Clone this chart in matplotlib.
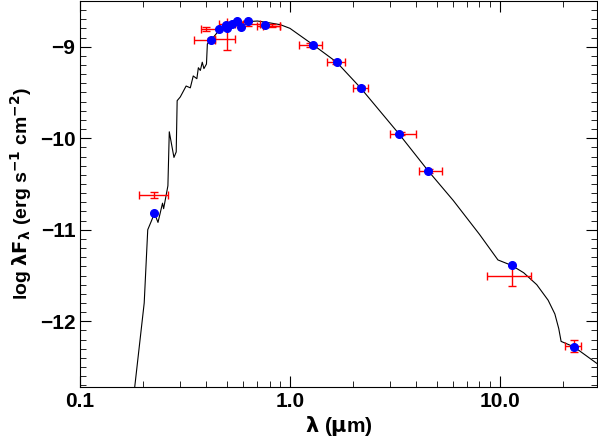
import matplotlib
matplotlib.use("Agg")
import matplotlib.pyplot as plt
from matplotlib.ticker import FixedLocator, NullFormatter, MultipleLocator
import numpy as np

plt.rcParams['font.family'] = ['Liberation Sans', 'DejaVu Sans']
plt.rcParams['mathtext.default'] = 'regular'

# model spectrum
model_x = [0.182, 0.202, 0.21, 0.219, 0.226, 0.235, 0.247, 0.25, 0.262, 0.266, 0.28, 0.287, 0.29,
           0.30, 0.32, 0.335, 0.346, 0.36, 0.366, 0.374, 0.382, 0.389, 0.40, 0.404, 0.42, 0.46,
           0.5, 0.6, 0.7, 0.8, 0.9, 1.0, 1.29, 1.67, 2.17, 3.3, 4.57, 6.0, 8.0, 9.8, 11.4, 13.0,
           15.0, 17.0, 18.3, 19.1, 19.6, 22.6, 29.0]
model_y = [-12.72, -11.80, -11.0, -10.90, -10.82, -10.92, -10.71, -10.77, -10.52, -9.93, -10.21, -10.15, -9.59,
           -9.55, -9.43, -9.45, -9.32, -9.35, -9.23, -9.26, -9.17, -9.24, -9.19, -8.97, -8.93, -8.82,
           -8.78, -8.73, -8.72, -8.74, -8.76, -8.80, -8.98, -9.17, -9.45, -9.95, -10.36, -10.68, -11.05, -11.33, -11.39, -11.47,
           -11.60, -11.77, -11.92, -12.08, -12.22, -12.28, -12.46]

# observed photometry
obs_x = [0.226, 0.40, 0.42, 0.50, 0.53, 0.56, 0.63, 0.76, 0.82, 1.25, 1.65, 2.17, 3.4, 4.6, 11.4, 22.6]
obs_y = [-10.62, -8.81, -8.93, -8.92, -8.75, -8.73, -8.75, -8.77, -8.77, -8.98, -9.17, -9.45, -9.95, -10.36, -11.51, -12.27]
obs_xlo = [0.19, 0.376, 0.35, 0.44, 0.46, 0.50, 0.55, 0.70, 0.74, 1.1, 1.5, 2.0, 3.0, 4.1, 8.7, 20.5]
obs_xhi = [0.263, 0.46, 0.44, 0.55, 0.60, 0.63, 0.72, 0.90, 0.90, 1.42, 1.82, 2.35, 4.0, 5.3, 14.1, 24.5]
obs_yerr = [0.03, 0.02, 0.02, 0.12, 0.02, 0.02, 0.02, 0.02, 0.02, 0.02, 0.02, 0.02, 0.02, 0.02, 0.11, 0.07]

# synthetic fluxes
syn_x = [0.226, 0.42, 0.46, 0.497, 0.50, 0.53, 0.558, 0.583, 0.63, 0.76, 1.29, 1.67, 2.17, 3.3, 4.57, 11.4, 22.6]
syn_y = [-10.82, -8.93, -8.81, -8.76, -8.80, -8.75, -8.72, -8.78, -8.72, -8.76, -8.98, -9.17, -9.45, -9.95, -10.36, -11.38, -12.28]

fig = plt.figure(figsize=(5.98, 4.43), dpi=100)
ax = fig.add_axes([0.134, 0.126, 0.864, 0.872])
ax.plot(model_x, model_y, color='black', lw=0.8)
ox = np.array(obs_x)
xerr = [ox - np.array(obs_xlo), np.array(obs_xhi) - ox]
ax.errorbar(obs_x, obs_y, xerr=xerr, yerr=obs_yerr, fmt='none', ecolor='red', elinewidth=1, capsize=3)
ax.plot(syn_x, syn_y, 'o', color='blue', ms=5.5, zorder=5)

ax.set_xscale('log')
ax.set_xlim(0.1, 29)
ax.set_ylim(-12.72, -8.5)
ax.set_xticks([0.1, 1.0, 10.0])
ax.set_xticklabels(['0.1', '1.0', '10.0'])
ax.xaxis.set_minor_locator(FixedLocator([a * b for b in (0.1, 1, 10) for a in range(2, 10)]))
ax.xaxis.set_minor_formatter(NullFormatter())
ax.set_yticks([-12, -11, -10, -9])
ax.yaxis.set_minor_locator(MultipleLocator(0.1))
ax.tick_params(which='both', direction='in', top=True, right=True, labelsize=15)
ax.tick_params(which='major', length=8)
ax.tick_params(which='minor', length=4)
for lbl in ax.get_xticklabels() + ax.get_yticklabels():
    lbl.set_fontweight('bold')
ax.set_xlabel(r'$\mathbf{\lambda}$ ($\mathbf{\mu}$m)', fontsize=15, fontweight='bold', labelpad=2)
ax.set_ylabel(r'log $\mathbf{\lambda F_\lambda}$ (erg s$^{\mathbf{-1}}$ cm$^{\mathbf{-2}}$)', fontsize=14, fontweight='bold')
fig.savefig('out.png', dpi=100)
